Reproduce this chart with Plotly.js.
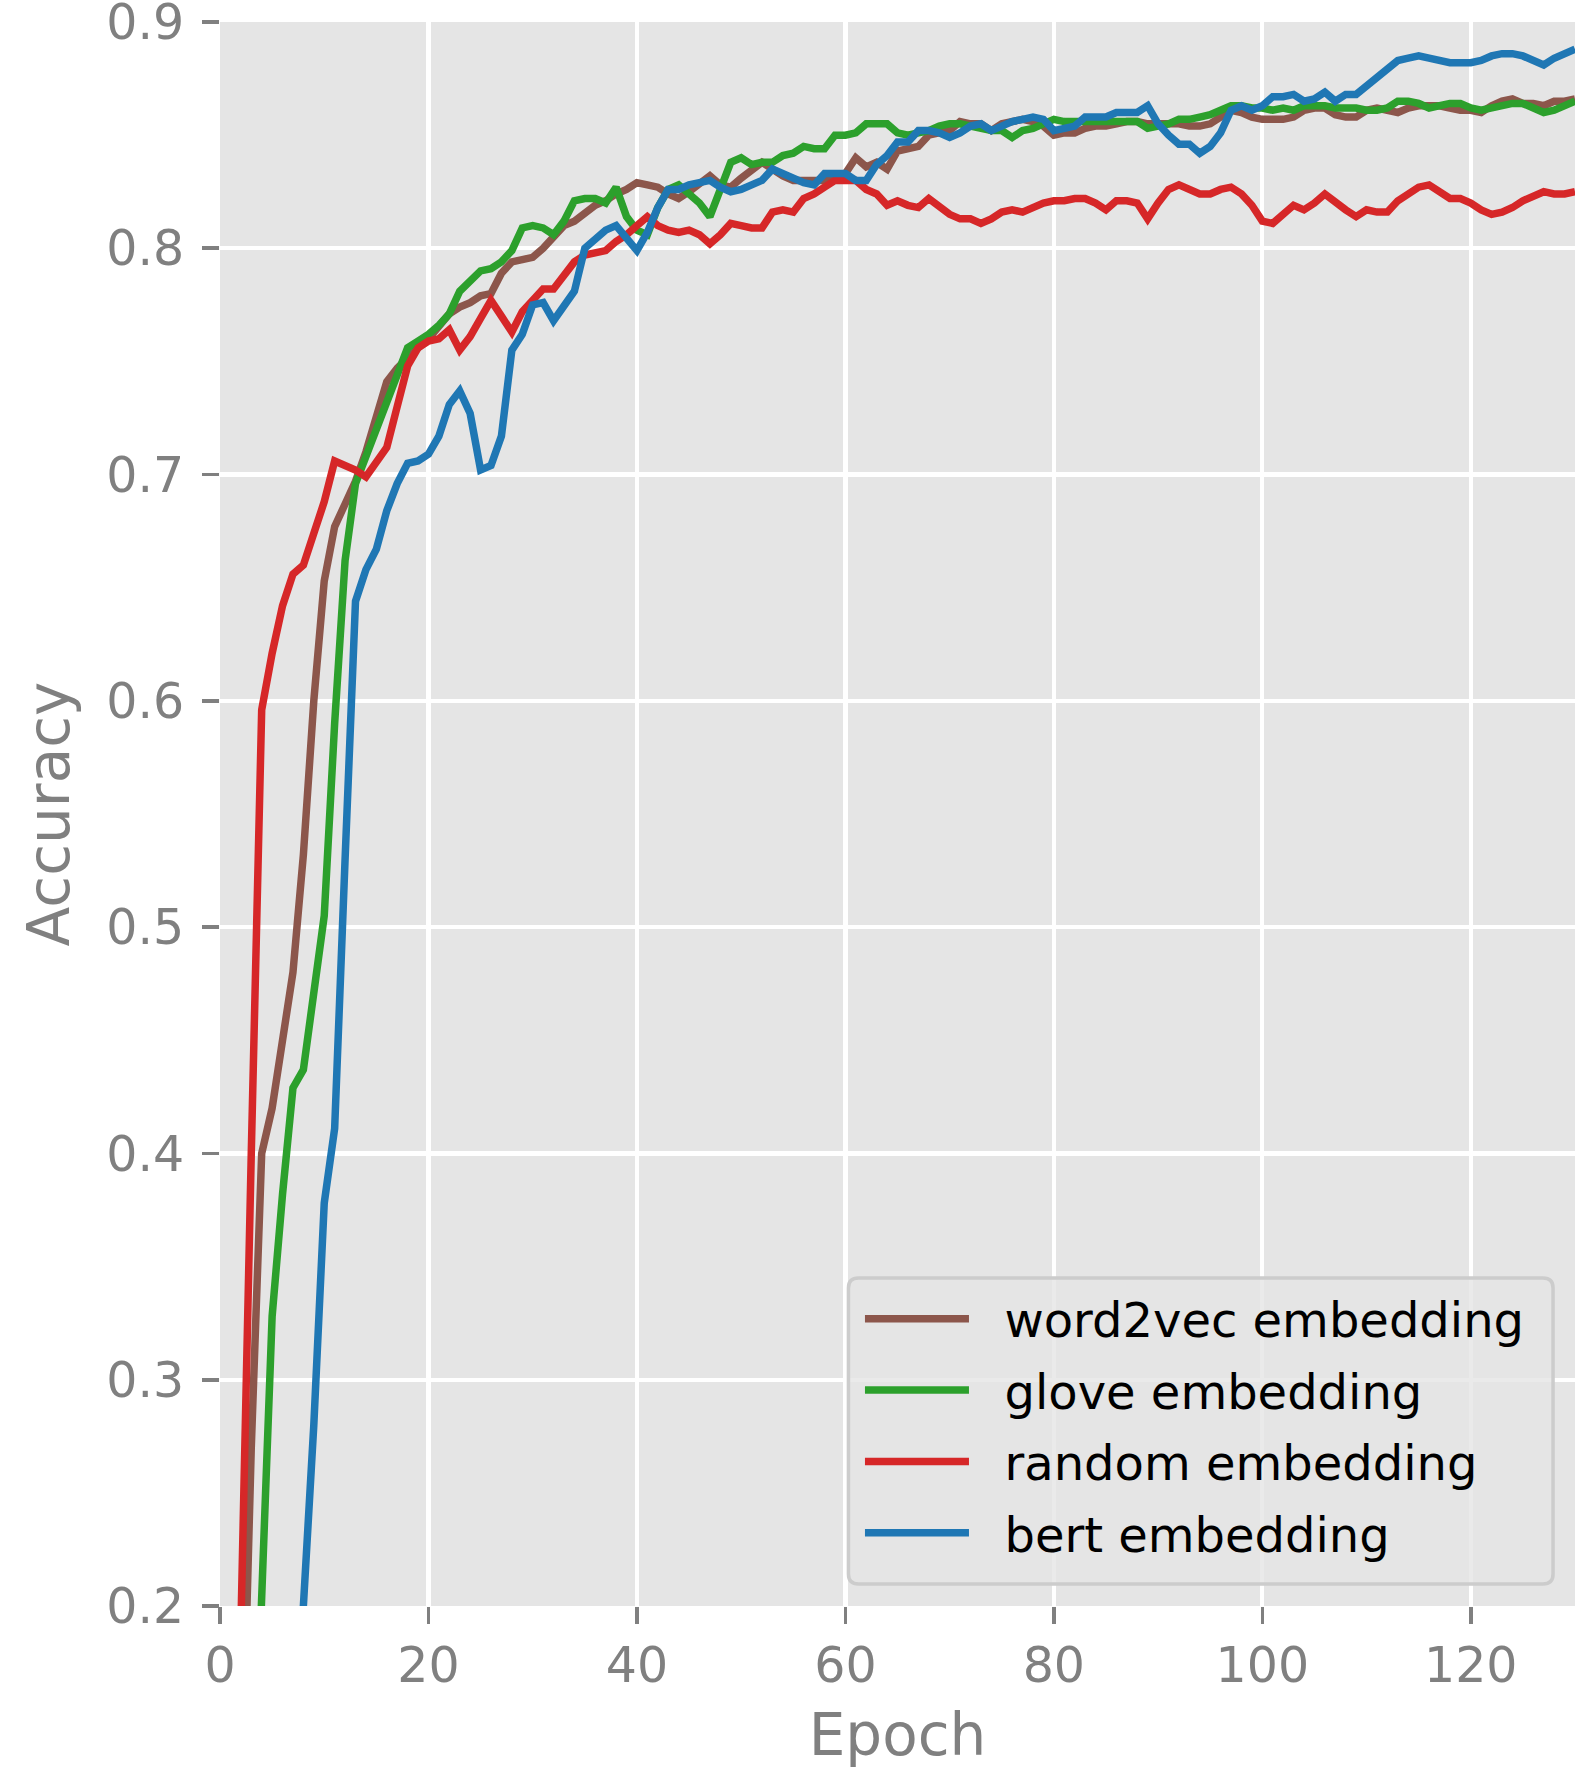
<!DOCTYPE html>
<html><head><meta charset="utf-8">
<script src="https://cdn.plot.ly/plotly-3.0.1.min.js"></script>
<style>html,body{margin:0;padding:0;background:#fff}</style>
</head><body>
<div id="chart" style="width:1578px;height:1769px"></div>
<script>
const epochs = [
1,2,3,4,5,6,7,8,9,10,11,12,13,14,15,16,17,18,19,20,
21,22,23,24,25,26,27,28,29,30,31,32,33,34,35,36,37,38,39,40,
41,42,43,44,45,46,47,48,49,50,51,52,53,54,55,56,57,58,59,60,
61,62,63,64,65,66,67,68,69,70,71,72,73,74,75,76,77,78,79,80,
81,82,83,84,85,86,87,88,89,90,91,92,93,94,95,96,97,98,99,100,
101,102,103,104,105,106,107,108,109,110,111,112,113,114,115,116,117,118,119,120,
121,122,123,124,125,126,127,128,129,130];

const word2vec = [
0.03,0.10,0.27,0.40,0.42,0.448,0.48,0.532,0.60,0.653,
0.677,0.687,0.697,0.710,0.725,0.741,0.747,0.752,0.756,0.760,
0.765,0.771,0.774,0.776,0.779,0.780,0.789,0.794,0.795,0.796,
0.800,0.805,0.810,0.812,0.816,0.819,0.821,0.824,0.826,0.829,
0.828,0.827,0.824,0.822,0.825,0.829,0.832,0.828,0.827,0.831,
0.835,0.838,0.835,0.832,0.830,0.830,0.830,0.830,0.832,0.833,
0.840,0.836,0.838,0.835,0.843,0.844,0.845,0.850,0.851,0.852,
0.856,0.855,0.855,0.852,0.855,0.856,0.857,0.856,0.854,0.850,
0.851,0.851,0.853,0.854,0.854,0.855,0.856,0.856,0.855,0.855,
0.855,0.855,0.854,0.854,0.855,0.858,0.861,0.860,0.858,0.857,
0.857,0.857,0.858,0.861,0.862,0.862,0.859,0.858,0.858,0.861,
0.862,0.861,0.860,0.862,0.863,0.863,0.863,0.862,0.861,0.861,
0.860,0.863,0.865,0.866,0.864,0.864,0.863,0.865,0.865,0.866];

const glove = [
0.02,0.03,0.08,0.205,0.328,0.382,0.429,0.437,0.471,0.505,
0.590,0.662,0.696,0.708,0.718,0.730,0.744,0.756,0.759,0.762,
0.766,0.771,0.781,0.785,0.790,0.791,0.794,0.799,0.809,0.810,
0.809,0.806,0.812,0.821,0.822,0.822,0.820,0.827,0.814,0.808,
0.806,0.818,0.826,0.828,0.824,0.820,0.814,0.825,0.838,0.840,
0.837,0.838,0.838,0.841,0.842,0.845,0.844,0.844,0.850,0.850,
0.851,0.855,0.855,0.855,0.851,0.850,0.851,0.852,0.854,0.855,
0.855,0.854,0.853,0.852,0.852,0.849,0.852,0.853,0.855,0.857,
0.856,0.856,0.856,0.856,0.856,0.856,0.856,0.856,0.853,0.854,
0.855,0.857,0.857,0.858,0.859,0.861,0.863,0.863,0.862,0.862,
0.861,0.862,0.861,0.863,0.863,0.863,0.862,0.862,0.862,0.861,
0.861,0.862,0.865,0.865,0.864,0.862,0.863,0.864,0.864,0.862,
0.861,0.862,0.863,0.864,0.864,0.862,0.860,0.861,0.863,0.865];

const randomEmb = [
0.05,0.19,0.40,0.596,0.621,0.642,0.656,0.660,0.674,0.688,
0.706,0.704,0.702,0.699,0.705,0.712,0.730,0.748,0.756,0.759,
0.760,0.764,0.755,0.761,0.769,0.777,0.770,0.763,0.772,0.777,
0.782,0.782,0.788,0.794,0.797,0.798,0.799,0.803,0.806,0.810,
0.814,0.810,0.808,0.807,0.808,0.806,0.802,0.806,0.811,0.810,
0.809,0.809,0.816,0.817,0.816,0.822,0.824,0.827,0.830,0.830,
0.830,0.826,0.824,0.819,0.821,0.819,0.818,0.822,0.818,0.815,
0.813,0.813,0.811,0.813,0.816,0.817,0.816,0.818,0.820,0.821,
0.821,0.822,0.822,0.820,0.817,0.821,0.821,0.820,0.813,0.820,
0.826,0.828,0.826,0.824,0.824,0.826,0.827,0.824,0.819,0.812,
0.811,0.815,0.819,0.817,0.820,0.824,0.820,0.817,0.814,0.817,
0.816,0.816,0.821,0.824,0.827,0.828,0.825,0.822,0.822,0.820,
0.817,0.815,0.816,0.818,0.821,0.823,0.825,0.824,0.824,0.825];

const bert = [
0.02,0.03,0.04,0.06,0.08,0.10,0.12,0.20,0.28,0.378,
0.411,0.53,0.644,0.658,0.667,0.684,0.696,0.705,0.706,0.709,
0.717,0.731,0.737,0.727,0.702,0.704,0.717,0.755,0.762,0.775,
0.776,0.768,0.774,0.781,0.800,0.804,0.808,0.810,0.804,0.799,
0.807,0.818,0.826,0.826,0.828,0.829,0.830,0.827,0.825,0.826,
0.828,0.830,0.835,0.833,0.831,0.829,0.828,0.833,0.833,0.833,
0.830,0.830,0.837,0.841,0.847,0.847,0.852,0.852,0.851,0.849,
0.851,0.854,0.855,0.852,0.854,0.856,0.857,0.858,0.857,0.852,
0.853,0.854,0.858,0.858,0.858,0.860,0.860,0.860,0.863,0.855,
0.850,0.846,0.846,0.842,0.845,0.851,0.861,0.863,0.861,0.863,
0.867,0.867,0.868,0.865,0.866,0.869,0.865,0.868,0.868,0.872,
0.875,0.879,0.883,0.884,0.885,0.884,0.883,0.882,0.882,0.882,
0.883,0.885,0.886,0.886,0.885,0.883,0.881,0.884,0.886,0.888];

const seriesNames = ['word2vec embedding','glove embedding','random embedding','bert embedding'];
const seriesColors = ['#8c564b','#2ca02c','#d62728','#1f77b4'];
const seriesValues = [word2vec, glove, randomEmb, bert];

const xTickVals = [0,20,40,60,80,100,120];
const xTickText = ['0','20','40','60','80','100','120'];
const yTickVals = [0.2,0.3,0.4,0.5,0.6,0.7,0.8,0.9];
const yTickText = ['0.2','0.3','0.4','0.5','0.6','0.7','0.8','0.9'];

const traces = seriesValues.map((vals, i) => ({
  type: 'scatter', mode: 'lines',
  x: epochs, y: vals,
  name: '\u00a0\u00a0' + seriesNames[i],
  legendgroup: 'g' + i,
  line: {color: seriesColors[i], width: 7.5},
  hoverinfo: 'skip'
}));

// legend frame (rounded box, semi-transparent like matplotlib's)
const bx0 = 0.4638, bx1 = 0.9838, by0 = 0.0139, by1 = 0.2071, rx = 0.0074, ry = 0.0063;
const framePath = 'M' + (bx0+rx) + ',' + by0 + ' L' + (bx1-rx) + ',' + by0 +
  ' Q' + bx1 + ',' + by0 + ' ' + bx1 + ',' + (by0+ry) +
  ' L' + bx1 + ',' + (by1-ry) + ' Q' + bx1 + ',' + by1 + ' ' + (bx1-rx) + ',' + by1 +
  ' L' + (bx0+rx) + ',' + by1 + ' Q' + bx0 + ',' + by1 + ' ' + bx0 + ',' + (by1-ry) +
  ' L' + bx0 + ',' + (by0+ry) + ' Q' + bx0 + ',' + by0 + ' ' + (bx0+rx) + ',' + by0 + ' Z';

const gray = '#808080';
const layout = {
  width: 1578, height: 1769,
  margin: {l: 220, r: 3, t: 22, b: 163, pad: 0},
  paper_bgcolor: '#ffffff', plot_bgcolor: '#e5e5e5',
  font: {family: 'DejaVu Sans, sans-serif', color: gray},
  showlegend: true,
  xaxis: {
    range: [0, 130], tickmode: 'array', tickvals: xTickVals, ticktext: xTickText,
    showgrid: true, gridcolor: '#ffffff', gridwidth: 4.3,
    zeroline: false, showline: false,
    ticks: 'outside', ticklen: 17, tickwidth: 3.6, tickcolor: gray,
    tickfont: {family: 'DejaVu Sans, sans-serif', size: 49, color: gray},
    ticklabelstandoff: -1, ticklabeloverflow: 'allow',
    title: {text: 'Epoch', font: {family: 'DejaVu Sans, sans-serif', size: 58, color: gray}, standoff: 37}
  },
  yaxis: {
    range: [0.2, 0.9], tickmode: 'array', tickvals: yTickVals, ticktext: yTickText,
    showgrid: true, gridcolor: '#ffffff', gridwidth: 4.3,
    zeroline: false, showline: false,
    ticks: 'outside', ticklen: 17, tickwidth: 3.6, tickcolor: gray,
    tickfont: {family: 'DejaVu Sans, sans-serif', size: 49, color: gray},
    ticklabelstandoff: 8, ticklabeloverflow: 'allow',
    title: {text: 'Accuracy', font: {family: 'DejaVu Sans, sans-serif', size: 58, color: gray}, standoff: 17}
  },
  shapes: [{
    type: 'path', xref: 'paper', yref: 'paper', path: framePath, layer: 'above',
    fillcolor: 'rgba(229,229,229,0.8)', line: {color: '#cccccc', width: 3.5}
  }],
  legend: {
    x: 0.4723, xanchor: 'left', y: 0.2052, yanchor: 'top',
    bgcolor: 'rgba(0,0,0,0)', borderwidth: 0,
    font: {family: 'DejaVu Sans, sans-serif', size: 48, color: '#000000'},
    itemwidth: 104, traceorder: 'grouped', tracegroupgap: 6
  }
};

Plotly.newPlot('chart', traces, layout, {staticPlot: true, displayModeBar: false});
</script>
</body></html>
